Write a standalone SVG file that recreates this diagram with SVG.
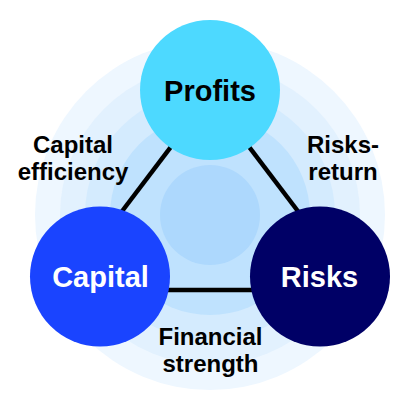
<svg xmlns="http://www.w3.org/2000/svg" width="420" height="410" viewBox="0 0 420 410">
<style>
.node text{font-family:"Liberation Sans",Arial,sans-serif;font-weight:bold;font-size:29px;text-anchor:middle}
.lbl{font-family:"Liberation Sans",Arial,sans-serif;font-weight:bold;font-size:24px;text-anchor:middle;fill:#000}
.conn line{stroke:#000;stroke-width:4.5}
</style>
<rect width="420" height="410" fill="#fff"/>
<g id="rings">
<circle cx="210" cy="215" r="175" fill="#EEF7FF"/>
<circle cx="210" cy="215" r="150" fill="#E2F1FE"/>
<circle cx="210" cy="215" r="125" fill="#D4EBFE"/>
<circle cx="210" cy="215" r="100" fill="#BFE2FE"/>
<circle cx="210" cy="215" r="50" fill="#ADD8FD"/>
</g>
<g id="connectors" class="conn">
<line x1="178.5" y1="136.8" x2="115" y2="220.5"/>
<line x1="241.5" y1="136.8" x2="305" y2="220.5"/>
<line x1="150" y1="290" x2="270" y2="290"/>
</g>
<g id="profits" class="node">
<circle cx="210" cy="90" r="70" fill="#4DD9FF"/>
<text x="210" y="101" fill="#000">Profits</text>
</g>
<g id="capital" class="node">
<circle cx="100" cy="276.5" r="70" fill="#1A44FF"/>
<text x="100.5" y="287" fill="#fff">Capital</text>
</g>
<g id="risks" class="node">
<circle cx="320" cy="276.5" r="70" fill="#000066"/>
<text x="319.5" y="287" fill="#fff">Risks</text>
</g>
<g id="labels">
<text class="lbl" x="73" y="153">Capital</text>
<text class="lbl" x="73" y="180">efficiency</text>
<text class="lbl" x="343" y="153">Risks-</text>
<text class="lbl" x="343" y="180">return</text>
<text class="lbl" x="210.5" y="345">Financial</text>
<text class="lbl" x="210.5" y="372">strength</text>
</g>
</svg>
